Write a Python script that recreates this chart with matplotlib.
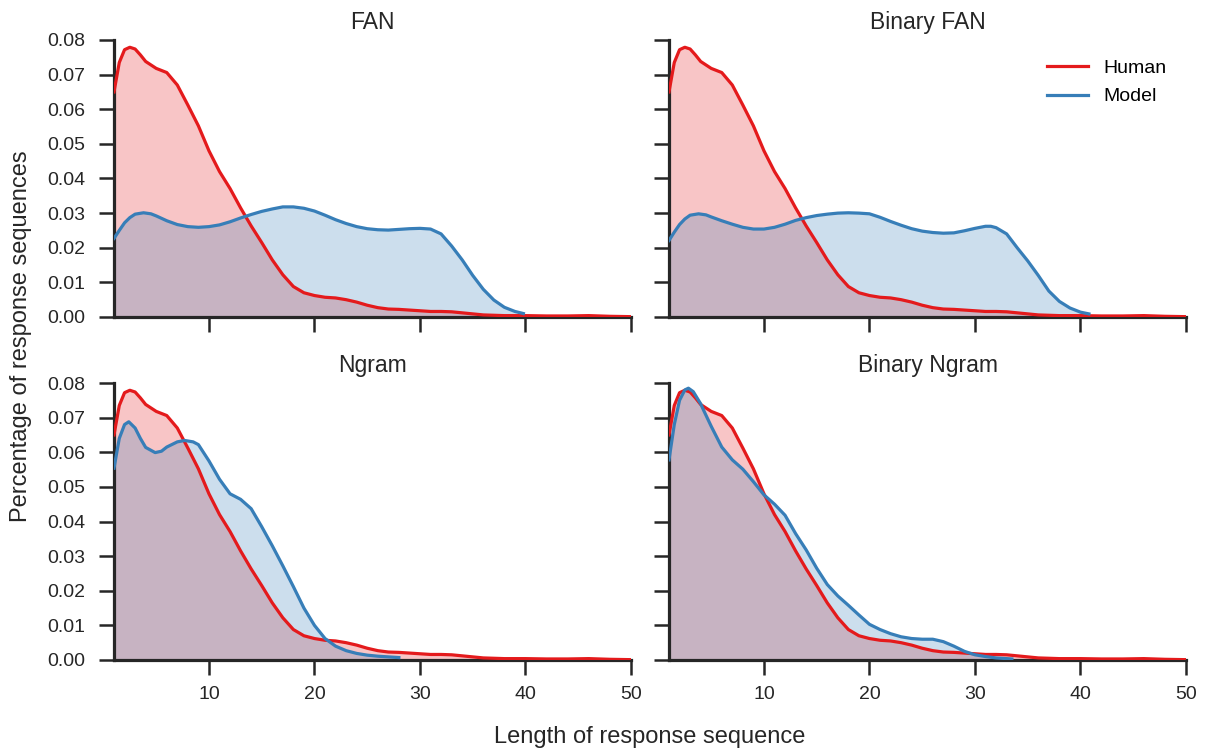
import matplotlib
matplotlib.use("Agg")
import matplotlib.pyplot as plt

plt.rcParams['font.family'] = ['Liberation Sans', 'DejaVu Sans']

# human response-length density (same in every panel)
human_x = [1, 1.5, 2, 2.5, 3, 3.5, 4, 5, 6, 7, 8, 9, 10, 11, 12, 13, 14, 15, 16, 17,
           18, 19, 20, 21, 22, 23, 24, 25, 26, 27, 28, 29, 30, 31, 32, 33, 34, 35, 36,
           38, 40, 42, 44, 46, 48, 50]
human_y = [0.065, 0.0735, 0.0772, 0.0779, 0.0774, 0.0757, 0.0738, 0.0718, 0.0706, 0.0670,
           0.0612, 0.0552, 0.0480, 0.0420, 0.0371, 0.0315, 0.0263, 0.0215, 0.0165, 0.0122,
           0.0088, 0.0070, 0.0062, 0.0057, 0.0055, 0.0050, 0.0043, 0.0034, 0.0027, 0.0023,
           0.0022, 0.0020, 0.0018, 0.0016, 0.0016, 0.0015, 0.0012, 0.0009, 0.0006,
           0.0004, 0.0004, 0.0003, 0.0003, 0.0004, 0.0002, 0.0001]

fan_x = [1, 1.5, 2, 2.5, 3, 3.8, 4.5, 5, 6, 7, 8, 9, 10, 11, 12, 13, 14, 15, 16, 17, 18,
         19, 20, 21, 22, 23, 24, 25, 26, 27, 28, 29, 30, 31, 32, 33, 34, 35, 36, 37, 38,
         39, 39.8]
fan_y = [0.0227, 0.0250, 0.0272, 0.0287, 0.0297, 0.0301, 0.0298, 0.0292, 0.0278, 0.0267,
         0.0261, 0.0259, 0.0261, 0.0266, 0.0275, 0.0286, 0.0296, 0.0305, 0.0312, 0.0318,
         0.0318, 0.0314, 0.0306, 0.0294, 0.0281, 0.0270, 0.0261, 0.0255, 0.0252, 0.0251,
         0.0253, 0.0255, 0.0256, 0.0254, 0.0240, 0.0205, 0.0165, 0.0120, 0.0080, 0.0049,
         0.0028, 0.0016, 0.0010]

bfan_x = [1, 1.5, 2, 2.5, 3, 3.8, 4.5, 5, 6, 7, 8, 9, 10, 11, 12, 13, 14, 15, 16, 17, 18,
          19, 20, 21, 22, 23, 24, 25, 26, 27, 28, 29, 30, 31, 31.5, 32, 33, 34, 35, 36, 37,
          38, 39, 40, 40.8]
bfan_y = [0.0221, 0.0245, 0.0267, 0.0283, 0.0294, 0.0298, 0.0295, 0.0289, 0.0278, 0.0268,
          0.0259, 0.0254, 0.0254, 0.0259, 0.0268, 0.0279, 0.0287, 0.0293, 0.0297, 0.0300,
          0.0301, 0.0300, 0.0298, 0.0288, 0.0276, 0.0265, 0.0255, 0.0248, 0.0244, 0.0242,
          0.0243, 0.0249, 0.0256, 0.0262, 0.0262, 0.0258, 0.0240, 0.0200, 0.0162, 0.0120,
          0.0075, 0.0045, 0.0026, 0.0014, 0.0009]

ngram_x = [1, 1.5, 2, 2.4, 3, 3.5, 4, 4.9, 5.5, 6, 7, 7.7, 8.5, 9, 10, 11, 12, 13, 14, 15,
           16, 17, 18, 19, 20, 21, 22, 23, 24, 25, 26, 27, 28]
ngram_y = [0.0554, 0.0640, 0.0680, 0.0688, 0.0670, 0.0640, 0.0614, 0.0599, 0.0603, 0.0615,
           0.0630, 0.0634, 0.0630, 0.0622, 0.0575, 0.0522, 0.0480, 0.0464, 0.0437, 0.0385,
           0.0330, 0.0272, 0.0212, 0.0150, 0.0100, 0.0062, 0.0040, 0.0027, 0.0019, 0.0014,
           0.0011, 0.0009, 0.0007]

bngram_x = [1, 1.5, 2, 2.5, 2.84, 3.3, 4, 4.27, 5, 6, 7, 8, 9, 10, 11, 12, 13, 14, 15, 16,
            17, 18, 19, 20, 21, 22, 23, 24, 25, 26, 27, 28, 29, 30, 31, 32, 33.5]
bngram_y = [0.0578, 0.0680, 0.0750, 0.0780, 0.0785, 0.0775, 0.0740, 0.0722, 0.0675, 0.0615,
            0.0578, 0.0551, 0.0515, 0.0477, 0.0450, 0.0418, 0.0365, 0.0318, 0.0265, 0.0218,
            0.0185, 0.0158, 0.0130, 0.0103, 0.0088, 0.0076, 0.0067, 0.0062, 0.0060, 0.0060,
            0.0053, 0.0040, 0.0025, 0.0015, 0.0010, 0.0006, 0.0003]

titles = ["FAN", "Binary FAN", "Ngram", "Binary Ngram"]
models = [(fan_x, fan_y), (bfan_x, bfan_y), (ngram_x, ngram_y), (bngram_x, bngram_y)]

red = '#e41a1c'
blue = '#377eb8'
dark = '#262626'

fig = plt.figure(figsize=(12.07, 7.51), dpi=100)
W, H = 1207, 751
boxes = [(114, 40), (669, 40), (114, 383), (669, 383)]
aw, ah = 517, 277

for i, (title, (mx, my)) in enumerate(zip(titles, models)):
    l, t = boxes[i]
    ax = fig.add_axes([l / W, 1 - (t + ah) / H, aw / W, ah / H])
    ax.plot(human_x, human_y, color=red, lw=2.3, label="Human", zorder=3)
    ax.fill_between(human_x, human_y, color=red, alpha=0.25, lw=0)
    ax.plot(mx, my, color=blue, lw=2.3, label="Model", zorder=3)
    ax.fill_between(mx, my, color=blue, alpha=0.25, lw=0)
    ax.set_xlim(1, 50)
    ax.set_ylim(0, 0.08)
    ax.set_xticks([10, 20, 30, 40, 50])
    ax.set_yticks([0, 0.01, 0.02, 0.03, 0.04, 0.05, 0.06, 0.07, 0.08])
    ax.set_title(title, fontsize=16.5, pad=8, color=dark)
    for s in ['top', 'right']:
        ax.spines[s].set_visible(False)
    for s in ['left', 'bottom']:
        ax.spines[s].set_linewidth(2.3)
        ax.spines[s].set_color(dark)
    ax.tick_params(width=1.8, length=10.5, labelsize=14, colors=dark)
    ax.tick_params(axis='y', pad=10)
    ax.tick_params(axis='x', pad=8.5)
    if i % 2 == 1:
        ax.set_yticklabels([])
    else:
        ax.set_yticklabels(["%.2f" % v for v in ax.get_yticks()])
    if i < 2:
        ax.set_xticklabels([])
    if i == 1:
        ax.legend(loc='upper right', frameon=False, fontsize=14, handlelength=2.1,
                  handletextpad=0.8, labelspacing=0.55, borderaxespad=0.6)

fig.text((114 + 1185) / 2 / W, 1 - 737 / H, "Length of response sequence", ha='center',
         va='center', fontsize=17, color=dark)
fig.text(21 / W, 1 - 336 / H, "Percentage of response sequences", ha='center',
         va='center', rotation=90, fontsize=17, color=dark)

fig.savefig("out.png", dpi=100)
